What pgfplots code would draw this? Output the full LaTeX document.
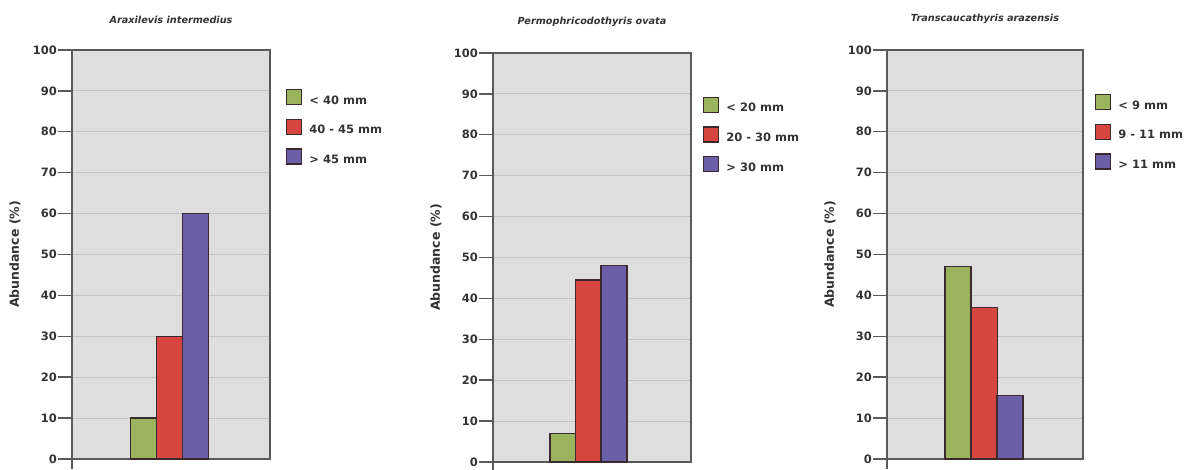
\documentclass[border=0pt]{standalone}
\usepackage{fontspec}
\setmainfont{DejaVu Sans}
\usepackage{pgfplots}
\pgfplotsset{compat=1.18}
\definecolor{bg}{HTML}{DEDEDE}
\definecolor{gridc}{HTML}{C4C4C4}
\definecolor{framec}{HTML}{5A5A5A}
\definecolor{cg}{HTML}{9BB35C}
\definecolor{cr}{HTML}{D6453F}
\definecolor{cb}{HTML}{6B60A8}
\definecolor{edge}{HTML}{3A2A2E}
\definecolor{txt}{HTML}{333333}
\pgfplotsset{
 panel/.style={
  scale only axis, width=198pt, height=409pt,
  xmin=0, xmax=198, ymin=0, ymax=100,
  axis background/.style={fill=bg},
  axis line style={draw=framec, line width=1.6pt},
  xtick=\empty, ytick={0,10,...,100},
  ytick pos=left, tick align=outside, major tick length=14pt,
  ytick style={draw=framec, line width=1.4pt},
  ymajorgrids, grid style={draw=gridc, line width=0.9pt},
  yticklabel style={font=\bfseries\fontsize{11.5}{12}\selectfont, text=txt, inner sep=1pt},
  /pgf/number format/assume math mode=true,
  ylabel={Abundance (\%)},
  every axis y label/.style={at={([xshift=-57pt]axis description cs:0,0.5)}, rotate=90, anchor=center, font=\bfseries\fontsize{12.5}{13}\selectfont, text=txt},
  title style={at={(axis description cs:0.5,1)}, anchor=south, yshift=17pt, font=\bfseries\itshape\fontsize{9.7}{10}\selectfont, text=txt},
  ybar, bar width=26, bar shift=0pt, clip=false,
  legend cell align=left,
  legend style={at={(axis description cs:1,1)}, anchor=north west, draw=none, fill=none, inner sep=0pt, row sep=12pt,
    nodes={inner sep=1pt, text=txt, font=\bfseries\fontsize{11.5}{12}\selectfont},
    /tikz/column 1/.style={column sep=6pt}},
 },
 barsty/.style={fill=#1, draw=edge, line width=1.2pt,
   legend image code/.code={\draw[fill=#1, draw=edge, line width=1.2pt] (0pt,-4pt) rectangle (15pt,11pt);}},
}
\begin{document}
\begin{tikzpicture}
\useasboundingbox (0,0) rectangle (1184pt,470pt);
% Panel 1
\begin{axis}[panel, at={(72pt,11pt)}, anchor=south west,
  title={Araxilevis intermedius},
  legend style={xshift=16pt, yshift=-39pt}]
\addplot[barsty=cg] coordinates {(71.5,10)};
\addplot[barsty=cr] coordinates {(97.5,30)};
\addplot[barsty=cb] coordinates {(123.5,60)};
\legend{< 40 mm, 40 - 45 mm, > 45 mm}
\draw[framec, line width=1.6pt] (axis description cs:0,0) -- ++(0pt,-10pt);
\end{axis}
% Panel 2
\begin{axis}[panel, at={(493pt,8pt)}, anchor=south west,
  title={Permophricodothyris ovata},
  legend style={xshift=12pt, yshift=-43.5pt}]
\addplot[barsty=cg] coordinates {(70,7)};
\addplot[barsty=cr] coordinates {(95.5,44.5)};
\addplot[barsty=cb] coordinates {(121,48)};
\legend{< 20 mm, 20 - 30 mm, > 30 mm}
\draw[framec, line width=1.6pt] (axis description cs:0,0) -- ++(0pt,-10pt);
\end{axis}
% Panel 3
\begin{axis}[panel, width=196pt, xmax=196, at={(887pt,11pt)}, anchor=south west,
  title={Transcaucathyris arazensis},
  legend style={xshift=12pt, yshift=-44pt}]
\addplot[barsty=cg] coordinates {(71,47)};
\addplot[barsty=cr] coordinates {(97.5,37)};
\addplot[barsty=cb] coordinates {(123,15.5)};
\legend{< 9 mm, 9 - 11 mm, > 11 mm}
\draw[framec, line width=1.6pt] (axis description cs:0,0) -- ++(0pt,-10pt);
\end{axis}
\end{tikzpicture}
\end{document}
